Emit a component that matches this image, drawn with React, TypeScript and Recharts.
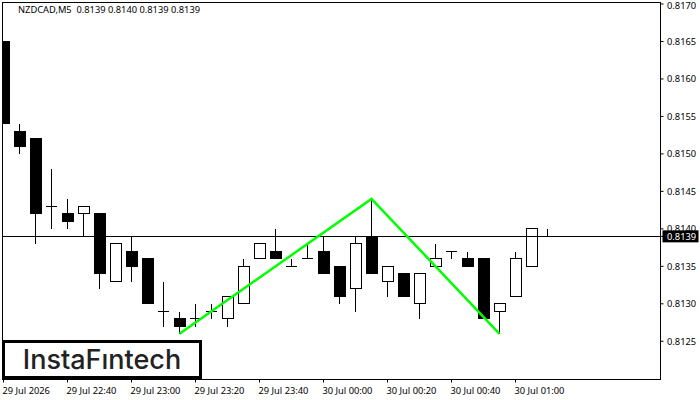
import { Bar, ComposedChart, Line, ReferenceArea, ReferenceLine, XAxis, YAxis } from "recharts"

const opens = [0.8165, 0.8153, 0.8152, 0.8143, 0.8142, 0.8142, 0.8142, 0.8133, 0.8137, 0.8136, 0.8129, 0.8128, 0.8128, 0.8129, 0.8128, 0.813, 0.8136, 0.8137, 0.8135, 0.8136, 0.8137, 0.8135, 0.8132, 0.8139, 0.8133, 0.8134, 0.813, 0.8135, 0.8137, 0.8136, 0.8136, 0.8129, 0.8131, 0.8135, 0.8139]
const highs = [0.8165, 0.8154, 0.8152, 0.8148, 0.8144, 0.8143, 0.8142, 0.8138, 0.8139, 0.8136, 0.8133, 0.8129, 0.813, 0.813, 0.8131, 0.8136, 0.8138, 0.814, 0.8136, 0.8138, 0.8139, 0.8135, 0.8139, 0.8144, 0.8135, 0.8134, 0.8134, 0.8138, 0.8137, 0.8137, 0.8136, 0.813, 0.8137, 0.814, 0.814]
const lows = [0.8154, 0.815, 0.8138, 0.814, 0.814, 0.8139, 0.8132, 0.8133, 0.8133, 0.813, 0.8127, 0.8126, 0.8127, 0.8128, 0.8127, 0.813, 0.8136, 0.8136, 0.8135, 0.8136, 0.8134, 0.813, 0.8129, 0.8134, 0.8131, 0.8131, 0.8128, 0.8135, 0.8136, 0.8135, 0.8128, 0.8126, 0.8131, 0.8135, 0.8139]
const closes = [0.8154, 0.8151, 0.8142, 0.8143, 0.8141, 0.8143, 0.8134, 0.8138, 0.8135, 0.813, 0.8129, 0.8127, 0.8128, 0.8129, 0.8131, 0.8135, 0.8138, 0.8136, 0.8135, 0.8136, 0.8134, 0.8131, 0.8138, 0.8134, 0.8135, 0.8131, 0.8134, 0.8136, 0.8137, 0.8135, 0.8128, 0.813, 0.8136, 0.814, 0.8139]

const patternIndexes = [11, 23, 31]
const patternPrices = [0.8126, 0.8144, 0.8126]

const timeTicks = [0, 4, 8, 12, 16, 20, 24, 28, 32]
const timeLabels = ["29 Jul 2026", "29 Jul 22:40", "29 Jul 23:00", "29 Jul 23:20", "29 Jul 23:40", "30 Jul 00:00", "30 Jul 00:20", "30 Jul 00:40", "30 Jul 01:00"]
const priceTicks = [0.8125, 0.813, 0.8135, 0.814, 0.8145, 0.815, 0.8155, 0.816, 0.8165, 0.817]
const lastPrice = 0.8139

const xMin = -0.0625
const xMax = 41.0625
const yMin = 0.81199
const yMax = 0.81702

const FONT = "'Noto Sans', sans-serif"

const rows = opens.map((open, i) => {
  const p = patternIndexes.indexOf(i)
  return {
    i,
    open,
    high: highs[i],
    low: lows[i],
    close: closes[i],
    range: [lows[i], highs[i]],
    pattern: p >= 0 ? patternPrices[p] : null,
  }
})

const snap = (v: number) => Math.floor(v) + 0.5

function Candle(props: any) {
  const { x, y, width, height, payload } = props
  const perPrice = height / (payload.high - payload.low)
  const toY = (price: number) => y + (payload.high - price) * perPrice
  const cx = snap(x + width / 2)
  const left = cx - 5.5
  const right = cx + 5.5
  const top = snap(toY(Math.max(payload.open, payload.close)))
  const bottom = snap(toY(Math.min(payload.open, payload.close)))
  const up = payload.close > payload.open
  return (
    <g shapeRendering="crispEdges">
      <line x1={cx} x2={cx} y1={snap(toY(payload.high))} y2={snap(toY(payload.low))} stroke="#000" />
      {top === bottom ? (
        <line x1={left} x2={right} y1={top} y2={top} stroke="#000" />
      ) : (
        <rect x={left} y={top} width={right - left} height={bottom - top} fill={up ? "#fff" : "#000"} stroke="#000" />
      )}
    </g>
  )
}

function TimeTick(props: any) {
  const { x, y, payload } = props
  return (
    <text x={x - 1} y={y + 9} textAnchor="start" fontFamily={FONT} fontSize={9.3} fill="#000">
      {timeLabels[timeTicks.indexOf(payload.value)]}
    </text>
  )
}

function PriceTick(props: any) {
  const { x, y, payload } = props
  const isLast = payload.value === lastPrice
  return (
    <g>
      {isLast && <rect x={x - 3} y={y - 6} width={36} height={12} fill="#000" />}
      <text x={x + 1.5} y={Math.max(y + 3.5, 8.5)} textAnchor="start" fontFamily={FONT} fontSize={9.3} fill={isLast ? "#fff" : "#000"}>
        {payload.value.toFixed(4)}
      </text>
    </g>
  )
}

export default function App() {
  return (
    <div style={{ position: "absolute", left: 0, top: 0, width: 700, height: 400, background: "#fff" }}>
      <ComposedChart
        width={700}
        height={400}
        data={rows}
        margin={{ top: 2.5, right: 0, bottom: 0, left: 2.5 }}
      >
        <XAxis
          dataKey="i"
          type="number"
          domain={[xMin, xMax]}
          ticks={timeTicks}
          interval={0}
          height={20.5}
          allowDataOverflow
          axisLine={false}
          tickLine={{ stroke: "#000" }}
          tickSize={3}
          tick={<TimeTick />}
        />
        <YAxis
          orientation="right"
          type="number"
          domain={[yMin, yMax]}
          ticks={[...priceTicks, lastPrice]}
          interval={0}
          width={39.5}
          allowDataOverflow
          axisLine={false}
          tickLine={{ stroke: "#000" }}
          tickSize={3}
          tick={<PriceTick />}
        />
        <ReferenceLine y={lastPrice} stroke="#000" strokeWidth={1} shapeRendering="crispEdges" />
        <Bar dataKey="range" barSize={11} shape={<Candle />} isAnimationActive={false} />
        <Line
          dataKey="pattern"
          stroke="#00ff00"
          strokeWidth={2.5}
          dot={false}
          connectNulls
          isAnimationActive={false}
        />
        <ReferenceArea x1={xMin} x2={xMax} y1={yMin} y2={yMax} fill="none" stroke="#000" shapeRendering="crispEdges" />
      </ComposedChart>
      <div style={{ position: "absolute", left: 18, top: 3, fontFamily: FONT, fontSize: 9.3, lineHeight: "14px", whiteSpace: "pre", color: "#000" }}>
        {"NZDCAD,M5  0.8139 0.8140 0.8139 0.8139"}
      </div>
      <div
        style={{
          position: "absolute",
          left: 2,
          top: 340,
          width: 194,
          height: 33,
          border: "3px solid #000",
          background: "#fff",
          fontFamily: "Inter, sans-serif",
          fontWeight: 500,
          fontSize: 27,
          lineHeight: "33px",
          textAlign: "center",
          color: "#222",
        }}
      >
        InstaFıntech
      </div>
    </div>
  )
}
